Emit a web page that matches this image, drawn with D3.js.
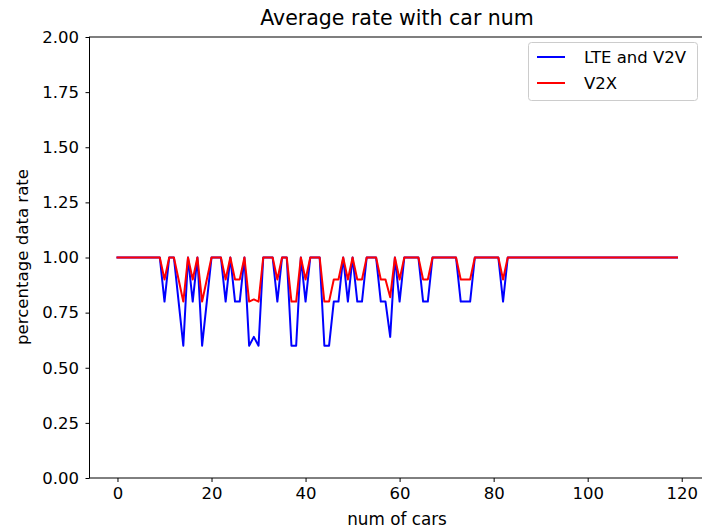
<!DOCTYPE html>
<html><head><meta charset="utf-8">
<script src="https://cdn.jsdelivr.net/npm/d3@7"></script>
<style>body{margin:0;background:#fff}svg{display:block}text{font-family:"DejaVu Sans",sans-serif;fill:#000}</style>
</head><body><svg id="c" width="702" height="529"></svg>
<script>
const carNums = d3.range(0, 120);
const lteV2V = [1,1,1,1,1,1,1,1,1,1, 0.8,1,1,0.8,0.6,1,0.8,1,0.6,0.8, 1,1,1,0.8,1,0.8,0.8,1,0.6,0.64, 0.6,1,1,1,0.8,1,1,0.6,0.6,1, 0.8,1,1,1,0.6,0.6,0.8,0.8,1,0.8, 1,0.8,0.8,1,1,1,0.8,0.8,0.64,1, 0.8,1,1,1,1,0.8,0.8,1,1,1, 1,1,1,0.8,0.8,0.8,1,1,1,1, 1,1,0.8,1,1,1,1,1,1,1, 1,1,1,1,1,1,1,1,1,1, 1,1,1,1,1,1,1,1,1,1, 1,1,1,1,1,1,1,1,1,1];
const v2x = [1,1,1,1,1,1,1,1,1,1, 0.9,1,1,0.9,0.8,1,0.9,1,0.8,0.9, 1,1,1,0.9,1,0.9,0.9,1,0.8,0.81, 0.8,1,1,1,0.9,1,1,0.8,0.8,1, 0.9,1,1,1,0.8,0.8,0.9,0.9,1,0.9, 1,0.9,0.9,1,1,1,0.9,0.9,0.82,1, 0.9,1,1,1,1,0.9,0.9,1,1,1, 1,1,1,0.9,0.9,0.9,1,1,1,1, 1,1,0.9,1,1,1,1,1,1,1, 1,1,1,1,1,1,1,1,1,1, 1,1,1,1,1,1,1,1,1,1, 1,1,1,1,1,1,1,1,1,1];
const xTicks = [0,20,40,60,80,100,120];
const yTicks = [0,0.25,0.5,0.75,1.0,1.25,1.5,1.75,2.0];
const seriesNames = ["LTE and V2V","V2X"];
const seriesColors = ["#0000ff","#ff0000"];

const svg = d3.select("#c");
const L=89.5, R=705, T=37, B=478;
const x = d3.scaleLinear().domain([-5.95,124.95]).range([L,R]);
const y = d3.scaleLinear().domain([0,2]).range([B,T]);

const xAxis = svg.append("g").attr("transform",`translate(0,${B})`)
  .call(d3.axisBottom(x).tickValues(xTicks).tickSize(4).tickPadding(5).tickFormat(d3.format("d")));
const yAxis = svg.append("g").attr("transform",`translate(${L},0)`)
  .call(d3.axisLeft(y).tickValues(yTicks).tickSize(4).tickPadding(6.5).tickFormat(d3.format(".2f")));
[xAxis,yAxis].forEach(a=>{a.select(".domain").remove();a.selectAll("text").style("font-size","16.5px").style("font-family","DejaVu Sans");a.selectAll("line").attr("stroke","#000").attr("stroke-width",1);});

svg.append("rect").attr("x",L).attr("y",T).attr("width",R-L).attr("height",B-T)
  .attr("fill","none").attr("stroke","#000").attr("stroke-width",1);

const line = d3.line().x((d,i)=>x(carNums[i])).y(d=>y(d));
[lteV2V,v2x].forEach((s,k)=>{
  svg.append("path").datum(s).attr("d",line).attr("fill","none")
    .attr("stroke",seriesColors[k]).attr("stroke-width",2).attr("stroke-linejoin","round").attr("stroke-linecap","square");
});

svg.append("text").attr("x",397).attr("y",25).attr("text-anchor","middle").style("font-size","20.5px").text("Average rate with car num");
svg.append("text").attr("x",397).attr("y",525).attr("text-anchor","middle").style("font-size","16.8px").text("num of cars");
svg.append("text").attr("transform","translate(28,257) rotate(-90)").attr("text-anchor","middle").style("font-size","16.6px").text("percentage data rate");

const lg = svg.append("g");
lg.append("rect").attr("x",528.5).attr("y",42.5).attr("width",169).attr("height",58).attr("rx",3)
  .attr("fill","#fff").attr("fill-opacity",0.8).attr("stroke","#ccc").attr("stroke-width",1);
seriesNames.forEach((n,k)=>{
  const yy = 57 + k*26;
  lg.append("line").attr("x1",537).attr("x2",565).attr("y1",yy).attr("y2",yy).attr("stroke",seriesColors[k]).attr("stroke-width",2);
  lg.append("text").attr("x",584).attr("y",yy+6).style("font-size","16.5px").text(n);
});
</script></body></html>
